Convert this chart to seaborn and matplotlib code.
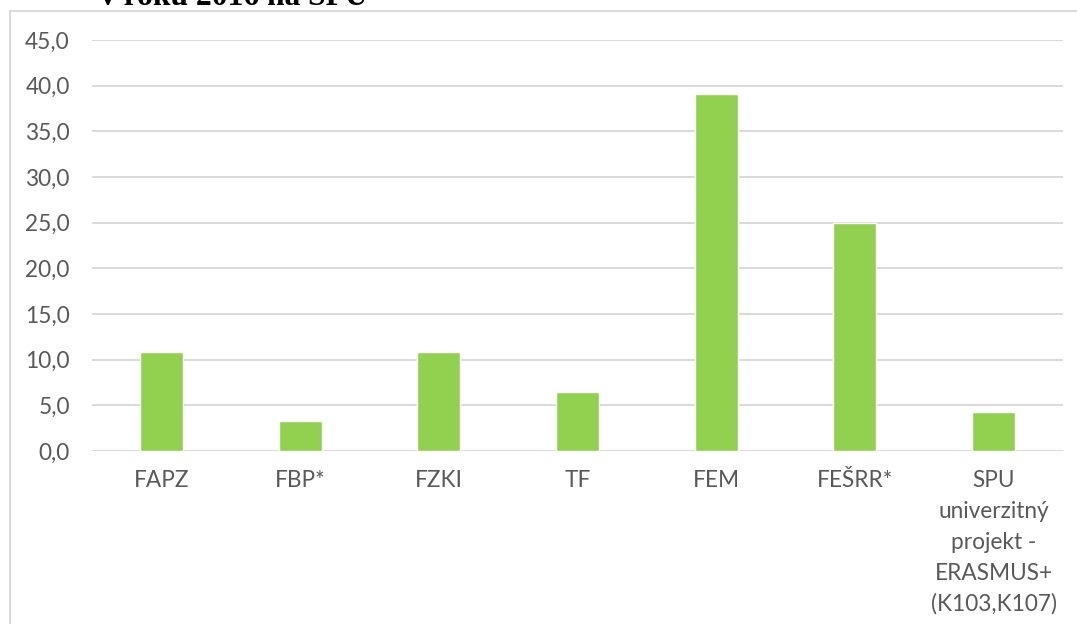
import matplotlib
matplotlib.use("Agg")
import matplotlib.pyplot as plt
import matplotlib.patches as mpatches
import seaborn as sns
import pandas as pd

categories = ["FAPZ", "FBP*", "FZKI", "TF", "FEM", "FEŠRR*",
              "SPU\nuniverzitný\nprojekt -\nERASMUS+\n(K103,K107)"]
values = [10.8, 3.3, 10.8, 6.5, 39.1, 25.0, 4.3]
yticks = [0, 5, 10, 15, 20, 25, 30, 35, 40, 45]
ytick_labels = ["0,0", "5,0", "10,0", "15,0", "20,0", "25,0", "30,0", "35,0", "40,0", "45,0"]
title_text = "v roku 2016 na SPU"

sns.set_style("white")
plt.rcParams['font.family'] = ['Lato', 'DejaVu Sans']

W, H = 1077, 624
fig = plt.figure(figsize=(W / 100, H / 100), dpi=100)
ax = fig.add_axes([92 / W, 1 - 451 / H, (1063 - 92) / W, (451 - 40) / H])

df = pd.DataFrame({"cat": categories, "val": values})
sns.barplot(data=df, x="cat", y="val", color="#92D050", width=0.31,
            saturation=1, ax=ax, zorder=3)

ax.set_ylim(0, 45)
ax.set_xlim(-0.5, len(categories) - 0.5)
ax.set_yticks(yticks)
ax.set_yticklabels(ytick_labels)
ax.yaxis.grid(True, color="#D9D9D9", linewidth=1.4, zorder=0)
ax.set_axisbelow(True)
for s in ax.spines.values():
    s.set_visible(False)
ax.set_xlabel("")
ax.set_ylabel("")
ax.tick_params(axis="y", length=0, pad=16, labelsize=16.3, labelcolor="#595959")
ax.tick_params(axis="x", length=0, pad=14, labelsize=16.3, labelcolor="#595959")
for lbl in ax.get_xticklabels():
    lbl.set_linespacing(1.57)
    lbl.set_multialignment("center")

# outer chart frame
frame = mpatches.Rectangle((10 / W, -0.1), 1.2, 1 - 11 / H + 0.1,
                           transform=fig.transFigure, fill=False,
                           edgecolor="#D9D9D9", linewidth=1.4, clip_on=False)
fig.patches.append(frame)

fig.text(100 / W, 1 - 5 / H, title_text, fontsize=22.7, fontweight="bold",
         family="Liberation Serif", va="baseline", ha="left", color="black")

fig.savefig("out.png", dpi=100)
